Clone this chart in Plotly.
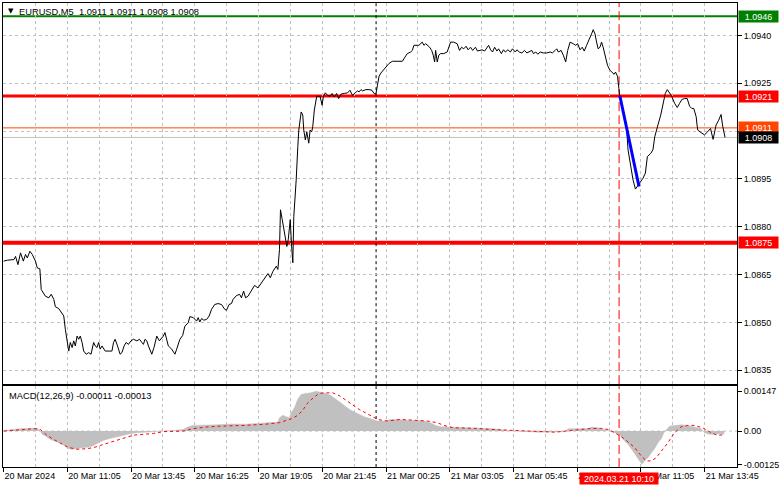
import plotly.graph_objects as go

# ---------------- data ----------------
symbol_header = "EURUSD,M5&nbsp; 1.0911 1.0911 1.0908 1.0908"
macd_header = "MACD(12,26,9) -0.00011 -0.00013"

# M5 bar index (0 = 20 Mar 2024 08:25) and close price
bar_index = [
    0, 1.9, 5.2, 6.0, 7.2, 8.5, 9.9, 11.0, 11.9, 13.2,
    14.4, 16.0, 16.9, 18.2, 18.9, 21.0, 22.7, 23.9, 25.2, 26.0,
    27.7, 29.0, 30.2, 31.0, 31.9, 32.7, 33.5, 34.4, 35.2, 36.0,
    36.9, 37.7, 38.5, 39.4, 40.2, 41.5, 42.7, 43.9, 45.2, 46.0,
    46.9, 47.7, 48.5, 49.4, 51.0, 52.7, 54.4, 55.2, 56.0, 57.2,
    58.5, 59.4, 60.5, 61.5, 62.7, 63.9, 65.2, 66.9, 68.2, 69.4,
    70.2, 71.0, 71.9, 72.7, 74.4, 75.5, 76.9, 78.2, 79.4, 80.2,
    81.0, 81.9, 82.7, 84.4, 86.0, 86.9, 88.5, 89.9, 91.0, 92.7,
    93.5, 95.2, 96.9, 97.7, 98.5, 99.4, 100.5, 101.9, 103.2, 104.4,
    106.0, 107.7, 109.4, 111.0, 111.9, 113.2, 114.4, 115.2, 116.9, 118.5,
    119.4, 120.5, 121.5, 122.7, 124.4, 126.0, 127.7, 129.4, 131.0, 132.7,
    133.9, 135.2, 136.9, 137.7, 138.5, 139.0, 139.9, 141.0, 142.2, 142.9,
    143.9, 144.5, 145.2, 145.7, 146.4, 146.9, 147.7, 148.2, 149.4, 150.2,
    150.7, 151.5, 152.2, 153.2, 153.9, 154.7, 155.2, 156.0, 157.2, 158.9,
    159.9, 160.5, 161.5, 162.7, 163.9, 164.9, 166.0, 167.2, 168.2, 169.4,
    171.0, 172.7, 173.9, 175.2, 176.5, 177.7, 178.5, 179.4, 180.2, 181.9,
    183.5, 184.9, 186.0, 186.9, 187.7, 188.5, 189.4, 190.5, 191.9, 193.5,
    195.2, 197.7, 200.2, 201.5, 202.7, 204.4, 205.2, 206.0, 207.7, 208.5,
    210.2, 211.0, 211.9, 212.7, 213.9, 214.9, 215.7, 216.4, 216.9, 217.7,
    218.5, 219.4, 221.0, 222.7, 223.5, 224.4, 226.0, 227.7, 228.9, 229.9,
    231.0, 232.2, 233.2, 234.4, 235.5, 236.9, 237.9, 238.9, 240.2, 241.5,
    242.7, 243.5, 244.5, 245.5, 246.5, 247.7, 248.5, 249.9, 251.0, 251.9,
    253.2, 254.4, 255.5, 256.9, 257.7, 258.9, 260.2, 261.5, 262.7, 263.9,
    265.2, 266.0, 267.2, 268.2, 269.4, 271.0, 272.7, 274.4, 275.5, 276.9,
    277.7, 278.5, 279.9, 281.0, 282.2, 283.2, 284.4, 286.0, 287.2, 288.2,
    289.4, 290.5, 291.5, 292.7, 293.9, 295.2, 296.0, 296.9, 297.7, 298.5,
    299.4, 300.2, 301.0, 301.9, 303.2, 304.4, 305.5, 306.5, 307.2, 308.2,
    308.9, 309.4, 311.0, 312.7, 313.5, 314.9, 316.0, 317.2, 318.2, 319.4,
    321.0, 322.2, 323.2, 324.9, 326.0, 326.9, 327.7, 328.5, 329.9, 331.0,
    332.2, 333.2, 334.4, 335.2, 336.9, 338.2, 339.4, 340.5, 341.9, 343.2,
    344.4, 345.5, 346.5, 347.7, 348.2, 348.5, 350.2, 351.9, 353.5, 354.9,
    356.2, 357.7, 359.0, 360.2, 361.0, 362.2,
]
close_price = [
    1.08692, 1.08695, 1.08697, 1.08707, 1.08681, 1.08718, 1.08692, 1.08713, 1.08702, 1.08723,
    1.08713, 1.08692, 1.08671, 1.08668, 1.08603, 1.08582, 1.08577, 1.08588, 1.08572, 1.08549,
    1.08543, 1.08530, 1.08520, 1.08478, 1.08447, 1.08410, 1.08437, 1.08421, 1.08442, 1.08426,
    1.08457, 1.08447, 1.08457, 1.08437, 1.08410, 1.08400, 1.08405, 1.08400, 1.08437, 1.08426,
    1.08421, 1.08437, 1.08416, 1.08426, 1.08410, 1.08410, 1.08410, 1.08437, 1.08447, 1.08426,
    1.08400, 1.08405, 1.08426, 1.08437, 1.08431, 1.08442, 1.08447, 1.08442, 1.08447, 1.08437,
    1.08431, 1.08447, 1.08442, 1.08426, 1.08400, 1.08421, 1.08457, 1.08442, 1.08452, 1.08457,
    1.08468, 1.08447, 1.08426, 1.08416, 1.08400, 1.08416, 1.08447, 1.08459, 1.08488, 1.08499,
    1.08518, 1.08515, 1.08504, 1.08515, 1.08501, 1.08512, 1.08507, 1.08509, 1.08520, 1.08541,
    1.08556, 1.08559, 1.08556, 1.08541, 1.08538, 1.08556, 1.08559, 1.08572, 1.08584, 1.08588,
    1.08577, 1.08598, 1.08577, 1.08582, 1.08598, 1.08616, 1.08608, 1.08624, 1.08640, 1.08653,
    1.08640, 1.08660, 1.08676, 1.08666, 1.08728, 1.08853, 1.08822, 1.08785, 1.08738, 1.08759,
    1.08822, 1.08749, 1.08687, 1.08832, 1.08884, 1.08947, 1.09051, 1.09103, 1.09160, 1.09150,
    1.09103, 1.09072, 1.09098, 1.09062, 1.09103, 1.09098, 1.09113, 1.09166, 1.09209, 1.09209,
    1.09181, 1.09207, 1.09220, 1.09212, 1.09209, 1.09218, 1.09207, 1.09218, 1.09202, 1.09216,
    1.09218, 1.09220, 1.09228, 1.09212, 1.09220, 1.09226, 1.09223, 1.09230, 1.09226, 1.09230,
    1.09230, 1.09228, 1.09218, 1.09216, 1.09244, 1.09272, 1.09282, 1.09291, 1.09301, 1.09312,
    1.09319, 1.09319, 1.09319, 1.09332, 1.09343, 1.09348, 1.09353, 1.09369, 1.09369, 1.09369,
    1.09379, 1.09369, 1.09374, 1.09369, 1.09363, 1.09353, 1.09338, 1.09317, 1.09353, 1.09317,
    1.09338, 1.09343, 1.09343, 1.09348, 1.09363, 1.09379, 1.09379, 1.09374, 1.09353, 1.09363,
    1.09358, 1.09366, 1.09355, 1.09363, 1.09353, 1.09363, 1.09351, 1.09353, 1.09355, 1.09351,
    1.09363, 1.09369, 1.09355, 1.09348, 1.09363, 1.09351, 1.09358, 1.09343, 1.09355, 1.09348,
    1.09355, 1.09348, 1.09358, 1.09348, 1.09355, 1.09348, 1.09345, 1.09353, 1.09345, 1.09348,
    1.09353, 1.09343, 1.09348, 1.09341, 1.09348, 1.09345, 1.09345, 1.09348, 1.09345, 1.09353,
    1.09358, 1.09348, 1.09353, 1.09338, 1.09317, 1.09353, 1.09379, 1.09374, 1.09369, 1.09374,
    1.09355, 1.09363, 1.09351, 1.09369, 1.09384, 1.09405, 1.09418, 1.09405, 1.09379, 1.09358,
    1.09363, 1.09379, 1.09363, 1.09338, 1.09306, 1.09291, 1.09285, 1.09278, 1.09285, 1.09272,
    1.09233, 1.09207, 1.09166, 1.09113, 1.09041, 1.08988, 1.08947, 1.08918, 1.08926, 1.08938,
    1.08952, 1.08968, 1.09020, 1.09030, 1.09041, 1.09082, 1.09103, 1.09119, 1.09150, 1.09187,
    1.09218, 1.09230, 1.09218, 1.09212, 1.09187, 1.09174, 1.09187, 1.09199, 1.09202, 1.09202,
    1.09178, 1.09171, 1.09171, 1.09145, 1.09116, 1.09103, 1.09095, 1.09088, 1.09098, 1.09108,
    1.09074, 1.09119, 1.09134, 1.09152, 1.09116, 1.09080,
]

# MACD main (histogram) and signal line
hist_bar = [
    0, 4, 8.5, 16.8, 18.5, 19.3, 21, 23.5, 26, 28.5,
    31, 32.7, 34.3, 37.7, 40.2, 42.7, 45.2, 47.7, 50.2, 53.5,
    56.8, 60.2, 63.5, 66.8, 70.2, 75.2, 80.2, 85.2, 90.2, 92.7,
    95.2, 106.8, 115.2, 121, 131, 137.7, 138.5, 140.2, 141.8, 143.5,
    144.3, 146, 147.7, 149.3, 151.8, 154.3, 156.8, 159.3, 161.8, 164.3,
    166.8, 169.3, 171.8, 174.3, 177.7, 181, 184.3, 187.7, 191, 194.3,
    197.7, 201, 204.3, 207.7, 211, 214.3, 216.8, 219.3, 222.7, 227.7,
    232.7, 237.7, 242.7, 246, 253.5, 268.5, 281.8, 283.5, 293.5, 295.2,
    298.5, 301.8, 304.3, 306.8, 309.3, 311, 313.5, 316, 317.7, 319.3,
    320.5, 321.8, 323.5, 325.2, 326.8, 328.5, 330.2, 331.5, 332.7, 334.3,
    336.8, 340.2, 343.5, 346.8, 350.2, 351.8, 354.3, 356.8, 359.3, 361.8,
]
hist_val = [
    0.00002, 0.00006, 0.00009, 0.00011, 0.0, -0.00012, -0.00018, -0.00031, -0.00037, -0.00045,
    -0.00055, -0.00065, -0.00067, -0.00065, -0.00061, -0.00059, -0.00053, -0.00043, -0.00034, -0.00027,
    -0.00021, -0.00015, -0.0001, -0.00006, -0.00005, -0.00004, 0.0, 0.00002, 0.00006, 0.00016,
    0.00021, 0.00023, 0.00026, 0.00025, 0.00031, 0.00033, 0.00049, 0.00058, 0.00053, 0.00049,
    0.00067, 0.00086, 0.00117, 0.00135, 0.00139, 0.00141, 0.00147, 0.00144, 0.00139, 0.00131,
    0.00119, 0.00104, 0.0009, 0.00077, 0.00065, 0.00053, 0.00045, 0.00037, 0.00037, 0.00043,
    0.00043, 0.0004, 0.00039, 0.00039, 0.00037, 0.00031, 0.00021, 0.00016, 0.00016, 0.00014,
    0.00012, 0.00011, 0.0001, 0.00009, 0.00002, -0.00004, -0.00002, 0.00009, 0.00009, 0.00015,
    0.00012, 0.00006, 0.0, -0.00006, -0.00012, -0.00031, -0.00049, -0.00074, -0.00094, -0.0011,
    -0.00123, -0.0011, -0.00098, -0.0008, -0.00065, -0.00043, -0.00028, -0.00006, 0.00006, 0.00018,
    0.00021, 0.00023, 0.00021, 0.00016, 0.00009, -0.00006, -0.00012, -0.00012, -0.0001, -0.00011,
]
signal_bar = [
    0.2, 8.5, 15.2, 18.5, 21.8, 25.2, 28.5, 31.8, 34.3, 36.8,
    41.8, 45.2, 48.5, 51.8, 56.8, 61.8, 65.2, 70.2, 75.2, 80.2,
    85.2, 90.2, 95.2, 101.8, 108.5, 115.2, 121, 131, 138.5, 144.3,
    147.7, 150.2, 152.7, 156, 158.5, 161.8, 165.2, 168.5, 171.8, 175.2,
    178.5, 181.8, 185.2, 187.7, 192.7, 199.3, 206, 212.7, 217.7, 221,
    226, 232.7, 237.7, 244.3, 260.2, 268.5, 276.8, 285.2, 293.5, 300.2,
    303.5, 306.8, 310.2, 313.5, 316.8, 320.2, 322.7, 325.2, 327.7, 330.2,
    333.5, 336.8, 340.2, 343.5, 346.8, 351, 355.2, 358.5, 361.8,
]
signal_val = [
    0.0, 0.00006, 0.00009, 0.00006, -0.00016, -0.00031, -0.00045, -0.00058, -0.00063, -0.00067,
    -0.00065, -0.00061, -0.00053, -0.00045, -0.00033, -0.00022, -0.00015, -0.00012, -0.00009, -0.00002,
    -0.00002, 0.0, 0.00009, 0.00015, 0.00018, 0.00021, 0.00021, 0.00025, 0.00031, 0.00045,
    0.00058, 0.00077, 0.00104, 0.00126, 0.00139, 0.00141, 0.00141, 0.00131, 0.00114, 0.00098,
    0.0008, 0.00067, 0.00053, 0.00043, 0.00037, 0.00043, 0.0004, 0.00037, 0.00031, 0.00021,
    0.00012, 0.00012, 0.0001, 0.00006, 0.0, -0.00002, -0.00004, 0.00002, 0.00009, 0.0001,
    0.00006, -0.00006, -0.00021, -0.0004, -0.00061, -0.00092, -0.0011, -0.0011, -0.00098, -0.00074,
    -0.00043, -0.00006, 0.00016, 0.00021, 0.00021, 0.00012, -0.00006, -0.00016, -0.00013,
]

# horizontal levels
level_green = 1.0946
level_red_upper = 1.0921
level_red_lower = 1.0875
ask_price = 1.0911
bid_price = 1.0908

# blue trend segment
trend_bar = [309.4, 319.0]
trend_price = [1.0921, 1.08926]

# markers on time axis
day_separator_bar = 187
event_bar = 309
event_label = "2024.03.21 10:10"

time_tick_bars = [0, 32, 64, 96, 128, 160, 192, 224, 256, 288, 320, 352]
time_tick_labels = ["20 Mar 2024", "20 Mar 11:05", "20 Mar 13:45", "20 Mar 16:25",
                    "20 Mar 19:05", "20 Mar 21:45", "21 Mar 00:25", "21 Mar 03:05",
                    "21 Mar 05:45", "21 Mar 08:25", "21 Mar 11:05", "21 Mar 13:45"]
price_ticks = [1.0835, 1.0850, 1.0865, 1.0880, 1.0895, 1.0910, 1.0925, 1.0940]
price_tick_labels = ["1.0835", "1.0850", "1.0865", "1.0880", "1.0895", "1.0910", "1.0925", "1.0940"]
macd_ticks = [0.00147, 0.0, -0.00125]
macd_tick_labels = ["0.00147", "0.00", "-0.00125"]

# ---------------- figure ----------------
GRID = "#c0c0c0"
FONT = "Liberation Sans, Arial, sans-serif"
x_range = [-0.3, 368.2]
price_range = [1.083061, 1.095017]
macd_range = [-0.001325, 0.001656]

fig = go.Figure()

fig.add_trace(go.Scatter(x=hist_bar, y=hist_val, xaxis="x2", yaxis="y2", mode="lines",
                         fill="tozeroy", fillcolor="#c0c0c0",
                         line=dict(color="#c0c0c0", width=0.5), hoverinfo="skip"))
fig.add_trace(go.Scatter(x=signal_bar, y=signal_val, xaxis="x2", yaxis="y2", mode="lines",
                         line=dict(color="#ff0000", width=1, dash="3px,3px"), hoverinfo="skip"))
fig.add_trace(go.Scatter(x=bar_index, y=close_price, mode="lines",
                         line=dict(color="black", width=1), hoverinfo="skip"))
fig.add_trace(go.Scatter(x=trend_bar, y=trend_price, mode="lines",
                         line=dict(color="#0000ff", width=3), hoverinfo="skip"))

shapes = []
for lvl, col, w in [(bid_price, "#c0c0c0", 1), (ask_price, "#ff4500", 1),
                    (level_green, "#008000", 2), (level_red_upper, "#ff0000", 3),
                    (level_red_lower, "#ff0000", 4)]:
    shapes.append(dict(type="line", xref="x domain", yref="y", x0=0, x1=1, y0=lvl, y1=lvl,
                       line=dict(color=col, width=w), layer="below"))
for xr, yr in [("x", "y domain"), ("x2", "y2 domain")]:
    shapes.append(dict(type="line", xref=xr, yref=yr, x0=day_separator_bar, x1=day_separator_bar,
                       y0=0, y1=1, line=dict(color="black", width=1, dash="3px,3px"),
                       layer="below"))
    shapes.append(dict(type="line", xref=xr, yref=yr, x0=event_bar, x1=event_bar,
                       y0=0, y1=1, line=dict(color="#ff0000", width=1, dash="9px,4px"),
                       layer="below"))
shapes.append(dict(type="line", xref="x2 domain", yref="y2", x0=0, x1=1, y0=0, y1=0,
                   line=dict(color=GRID, width=1, dash="3px,3px"), layer="below"))

annotations = []
for lvl, bg in [(level_green, "#008000"), (level_red_upper, "#ff0000"), (ask_price, "#ff4500"),
                (bid_price, "#000000"), (level_red_lower, "#ff0000")]:
    annotations.append(dict(xref="paper", yref="y", x=1, y=lvl, xanchor="left", yanchor="middle",
                            xshift=1, text=f"{lvl:.4f}", showarrow=False, bgcolor=bg,
                            width=39, height=11, borderpad=0, align="center",
                            font=dict(family=FONT, size=9, color="white")))
annotations.append(dict(xref="paper", yref="paper", x=0, y=1, xanchor="left", yanchor="middle",
                        xshift=3, yshift=-8, text="▼", showarrow=False,
                        font=dict(family="DejaVu Sans", size=7, color="black")))
annotations.append(dict(xref="paper", yref="paper", x=0, y=1, xanchor="left", yanchor="middle",
                        xshift=14, yshift=-8.5, text=symbol_header, showarrow=False,
                        font=dict(family=FONT, size=9.3, color="black")))
annotations.append(dict(xref="paper", yref="y2 domain", x=0, y=1, xanchor="left", yanchor="middle",
                        xshift=4, yshift=-10, text=macd_header, showarrow=False,
                        font=dict(family=FONT, size=9.3, color="black")))
annotations.append(dict(xref="x2", yref="paper", x=event_bar, y=0, xanchor="center", yanchor="top",
                        yshift=-5, text=event_label, showarrow=False, bgcolor="#ff0000",
                        width=78, height=11, borderpad=0,
                        font=dict(family=FONT, size=9, color="white")))

axis_common = dict(showline=True, mirror=True, linecolor="black", linewidth=1, zeroline=False)
xgrid = dict(showgrid=True, gridcolor=GRID, griddash="3px,3px", gridwidth=1,
             minor=dict(dtick=16, tick0=0, showgrid=True, gridcolor=GRID, griddash="3px,3px", gridwidth=1))

fig.update_layout(
    width=781, height=489, margin=dict(l=3, r=41, t=2, b=22),
    paper_bgcolor="white", plot_bgcolor="white", showlegend=False,
    font=dict(family=FONT, size=9, color="black"),
    shapes=shapes, annotations=annotations,
    xaxis=dict(domain=[0, 1], anchor="y", range=x_range, tickvals=time_tick_bars,
               showticklabels=False, ticks="", **xgrid, **axis_common),
    xaxis2=dict(domain=[0, 1], anchor="y2", range=x_range, tickvals=time_tick_bars,
                ticktext=time_tick_labels, ticks="outside", ticklen=4, tickcolor="black",
                ticklabelposition="outside right", **xgrid, **axis_common),
    yaxis=dict(domain=[83 / 465, 1], anchor="x", side="right", range=price_range,
               tickvals=price_ticks, ticktext=price_tick_labels, ticks="outside", ticklen=4,
               tickcolor="black", showgrid=True, gridcolor=GRID, griddash="3px,3px", **axis_common),
    yaxis2=dict(domain=[0, 81 / 465], anchor="x2", side="right", range=macd_range,
                tickvals=macd_ticks, ticktext=macd_tick_labels, ticks="outside", ticklen=4,
                tickcolor="black", showgrid=False, **axis_common),
)

fig.write_html("out.html", config={"displayModeBar": False, "staticPlot": True},
               post_script="document.body.style.margin='0';document.body.style.overflow='hidden';")
